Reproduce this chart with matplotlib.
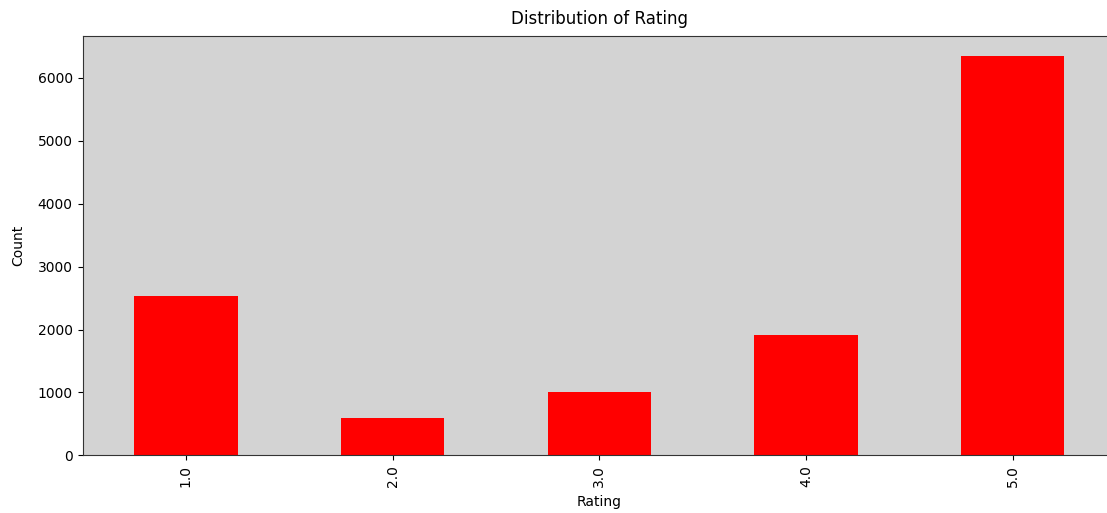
import matplotlib
matplotlib.use('Agg')
import matplotlib.pyplot as plt
import numpy as np

ratings = ['1.0', '2.0', '3.0', '4.0', '5.0']
counts = [2525, 587, 1005, 1912, 6349]

fig = plt.figure(figsize=(11.07, 5.13), dpi=100)
# axes runs past the right edge, as in the cropped original
ax = fig.add_axes([82.5 / 1107, 1 - 455.3 / 513, 1033.5 / 1107, (455.3 - 36) / 513])

x = np.arange(len(ratings))
ax.bar(x, counts, width=0.5, color='red')
ax.set_facecolor('lightgrey')
ax.set_xlim(-0.5, len(ratings) - 0.5)
ax.set_ylim(0, max(counts) * 1.05)
ax.set_xticks(x)
ax.set_xticklabels(ratings, rotation=90)
ax.set_yticks([0, 1000, 2000, 3000, 4000, 5000, 6000])
for s in ax.spines.values():
    s.set_color('#333333')

ax.set_xlabel('Rating', labelpad=6)
ax.set_ylabel('Count', labelpad=9)
ax.set_title('Distribution of Rating', pad=9)

fig.savefig('out.png', dpi=100)
